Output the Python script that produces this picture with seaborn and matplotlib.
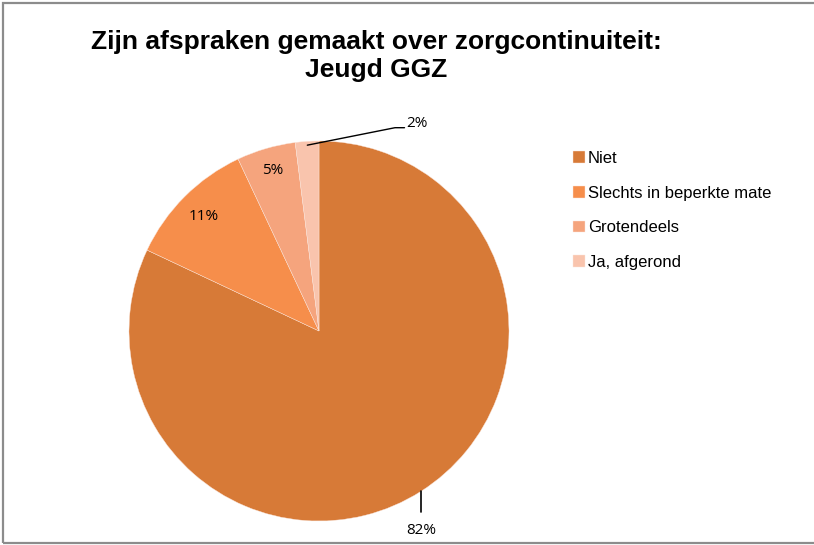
#importing packages
import numpy as np
import matplotlib
matplotlib.use("Agg")
import matplotlib.pyplot as plt
from matplotlib.patches import Rectangle
import seaborn as sns

#data
categories = ["Niet", "Slechts in beperkte mate", "Grotendeels", "Ja, afgerond"]
shares = [82, 11, 5, 2]
colours = ["#D77A37", "#F68E4B", "#F5A47D", "#F9C4AD"]

sns.set_theme(style="white")
plt.rcParams['font.family'] = ['Liberation Sans', 'DejaVu Sans']

W, H = 814, 545
fig = plt.figure(figsize=(W/100, H/100), dpi=100)
fig.patch.set_facecolor("white")

#pie box in pixels: centre (319,331), radius 190
cx, cy, r = 319, 331, 190
ax = fig.add_axes([(cx-r)/W, (H-cy-r)/H, 2*r/W, 2*r/H])
wedges, _ = ax.pie(shares, colors=colours, startangle=90, counterclock=False,
                   wedgeprops=dict(edgecolor="#fbe6dc", linewidth=0.3))
ax.set_xlim(-1, 1)
ax.set_ylim(-1, 1)
ax.set_aspect("equal")
ax.axis("off")

#percentage labels
lblfont = dict(family=['Open Sans', 'DejaVu Sans'], fontsize=11, color="black")
for i, w in enumerate(wedges):
    mid = np.deg2rad((w.theta1 + w.theta2) / 2)
    txt = f"{shares[i]}%"
    if i == 0:
        x0, y0 = np.cos(mid), np.sin(mid)
        ax.plot([x0, x0], [y0, -0.955], color="black", lw=1.2, clip_on=False)
        ax.text(x0, -1.05, txt, ha="center", va="center", **lblfont)
    elif i == len(wedges) - 1:
        x0, y0 = 0.98*np.cos(mid), 0.98*np.sin(mid)
        ax.plot([x0, 0.40, 0.45], [y0, 1.07, 1.07], color="black", lw=1.0, clip_on=False)
        ax.text(0.46, 1.092, txt, ha="left", va="center", **lblfont)
    else:
        rr = 0.855 if i == 1 else 0.88
        ax.text(rr*np.cos(mid), rr*np.sin(mid), txt, ha="center", va="center", **lblfont)

#title
fig.text(376/W, 1-42/H, "Zijn afspraken gemaakt over zorgcontinuiteit:",
         ha="center", va="center", fontsize=19, fontweight="bold", color="black")
fig.text(376/W, 1-70/H, "Jeugd GGZ", ha="center", va="center", fontsize=19,
         fontweight="bold", color="black")

#legend
leg = fig.legend(wedges, categories, loc="upper left", bbox_to_anchor=(558/W, 1-136/H),
                 frameon=False, fontsize=12, handlelength=0.7, handleheight=0.7,
                 handletextpad=0.2, labelspacing=1.18)
for t in leg.get_texts():
    t.set_color("black")

#grey frame round the chart
fig.patches.append(Rectangle((2.5/W, 2.5/H), 1.2, 1-5.5/H, transform=fig.transFigure,
                             fill=False, edgecolor="#8c8c8c", linewidth=1.6))

fig.savefig("out.png", dpi=100)
